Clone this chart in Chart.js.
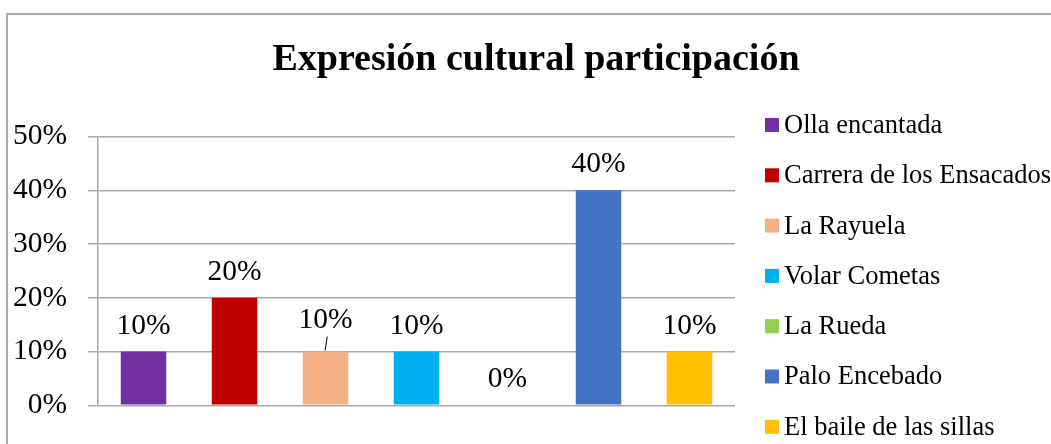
<!DOCTYPE html>
<html>
<head>
<meta charset="utf-8">
<script src="https://cdn.jsdelivr.net/npm/chart.js@4"></script>
<style>
  html, body { margin: 0; padding: 0; background: #fff; overflow: hidden; width: 1051px; height: 444px; }
  #frame { position: absolute; left: 6px; top: 13px; width: 1070px; height: 460px;
           border-left: 2px solid #ababab; border-top: 2px solid #ababab; }
  #chart { display: block; }
</style>
</head>
<body>
<div id="frame"><canvas id="chart" width="1056" height="429"></canvas></div>
<script>
// categorias y porcentajes
const categories = ['Olla encantada', 'Carrera de los Ensacados', 'La Rayuela', 'Volar Cometas',
                    'La Rueda', 'Palo Encebado', 'El baile de las sillas'];
const values = [10, 20, 10, 10, 0, 40, 10];
const colors = ['#7030A0', '#C00000', '#F4B183', '#00B0F0', '#92D050', '#4472C4', '#FFC000'];
const yMin = 0, yMax = 50, yStep = 10;

const serif = "'Liberation Serif', 'Times New Roman', serif";

//=======================================================================================
// etiquetas de datos encima de cada barra ==============================================
//=======================================================================================
const dataLabels = {
    id: 'dataLabels',
    afterDatasetsDraw(chart, args, opts) {
        const ctx = chart.ctx;
        ctx.save();
        ctx.font = opts.size + 'px ' + serif;
        ctx.fillStyle = '#000';
        ctx.textAlign = 'center';
        ctx.textBaseline = 'alphabetic';
        chart.data.datasets.forEach((ds, i) => {
            let bar = chart.getDatasetMeta(i).data[0];
            let lift = (i === opts.leaderIndex) ? opts.leaderLift : 0;
            ctx.fillText(ds.data[0] + '%', bar.x, bar.y - opts.gap - lift);
            if (i === opts.leaderIndex) {
                ctx.strokeStyle = '#000';
                ctx.lineWidth = 1;
                ctx.beginPath();
                ctx.moveTo(bar.x + 1.7, bar.y - 15);
                ctx.lineTo(bar.x - 0.3, bar.y - 1);
                ctx.stroke();
            }
        });
        ctx.restore();
    }
};

//=======================================================================================
// leyenda vertical a la derecha ========================================================
//=======================================================================================
const sideLegend = {
    id: 'sideLegend',
    afterDraw(chart, args, opts) {
        const ctx = chart.ctx;
        ctx.save();
        ctx.font = opts.size + 'px ' + serif;
        ctx.textAlign = 'left';
        ctx.textBaseline = 'middle';
        chart.data.datasets.forEach((ds, i) => {
            let y = opts.top + i * opts.step;
            ctx.fillStyle = ds.backgroundColor;
            ctx.fillRect(opts.x, y - opts.box / 2, opts.box, opts.box);
            ctx.fillStyle = '#000';
            ctx.fillText(ds.label, opts.x + opts.box + opts.gap, y + 1);
        });
        ctx.restore();
    }
};

let datasets = [];
categories.forEach((c, i) => {
    datasets.push({
        label: c,
        data: [values[i]],
        backgroundColor: colors[i],
        borderWidth: 0,
        categoryPercentage: 1.0,
        barPercentage: 0.5
    });
});

let config = {
    type: 'bar',
    data: { labels: [''], datasets: datasets },
    options: {
        responsive: false,
        animation: false,
        layout: { padding: { left: 0, right: 0, top: 0, bottom: 35 } },
        plugins: {
            legend: { display: false },
            tooltip: { enabled: false },
            title: {
                display: true,
                text: 'Expresión cultural participación',
                color: '#000',
                font: { family: serif, size: 38, weight: 'bold', lineHeight: 1.2 },
                padding: { top: 22, bottom: 54 }
            },
            dataLabels: { size: 29.5, gap: 18, leaderIndex: 2, leaderLift: 6 },
            sideLegend: { x: 757, top: 110, step: 50.3, box: 14, gap: 5, size: 26.5 }
        },
        scales: {
            x: {
                grid: { display: false },
                ticks: { display: false },
                border: { display: false },
                afterFit(scale) { scale.height = 0; }
            },
            y: {
                min: yMin,
                max: yMax,
                ticks: {
                    stepSize: yStep,
                    padding: 21,
                    color: '#000',
                    font: { family: serif, size: 29.5 },
                    callback: (v) => v + '%'
                },
                grid: { color: '#a9a9a9', lineWidth: 1.5, tickLength: 10, drawTicks: true },
                border: { display: true, color: '#a9a9a9', width: 1.5 },
                afterFit(scale) { scale.width = 90; }
            },
            // eje vacio a la derecha: deja sitio para la leyenda
            yLegend: {
                position: 'right',
                min: yMin,
                max: yMax,
                ticks: { display: false },
                grid: { display: false },
                border: { display: false },
                afterFit(scale) { scale.width = 329; }
            }
        }
    },
    plugins: [dataLabels, sideLegend]
};

new Chart(document.getElementById('chart'), config);
</script>
</body>
</html>
